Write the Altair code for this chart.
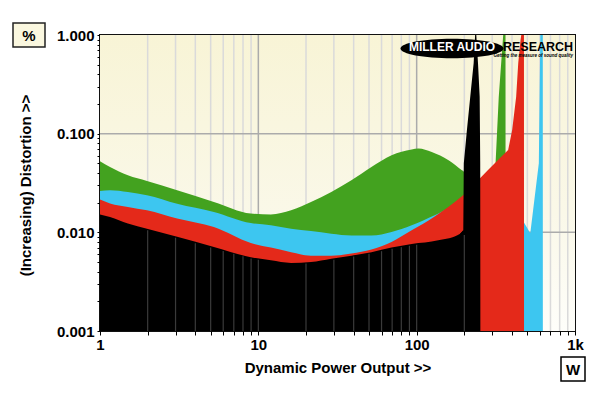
import altair as alt
import pandas as pd
import numpy as np

# ---- data (power in W, distortion in %) ----
green_w = [1, 1.157, 1.5, 1.98, 3.07, 5.24, 8.96, 12.0, 16.1, 21.5, 28.9, 38.7, 51.8, 69.4, 93.0,
           102.6, 124.5, 159, 193, 252, 315, 330, 352, 364, 364.5]
green_v = [0.0526, 0.046, 0.0378, 0.0332, 0.0267, 0.0203, 0.0155, 0.0152, 0.0167, 0.0203, 0.0257,
           0.0337, 0.0460, 0.0605, 0.0691, 0.0708, 0.0653, 0.0538, 0.0426, 0.030, 0.050, 0.237,
           1.0, 1.0, 0.001]

cyan_w = [1, 1.157, 1.5, 1.98, 3.07, 5.24, 8.96, 12.0, 16.1, 21.5, 28.9, 38.7, 51.8, 69.4, 93.0,
          130, 200, 252, 470, 476, 522, 591, 604, 626, 626.5]
cyan_v = [0.0263, 0.0267, 0.0256, 0.0238, 0.0195, 0.0161, 0.0124, 0.0118, 0.0109, 0.0103, 0.0097,
          0.0093, 0.0093, 0.0101, 0.0118, 0.0149, 0.020, 0.020, 0.0126, 0.0126, 0.0098, 0.050,
          1.0, 1.0, 0.001]

red_w = [1, 1.157, 1.5, 1.98, 3.07, 5.24, 8.96, 12.0, 16.1, 21.5, 28.9, 38.7, 51.8, 69.4, 93.0,
         130, 193, 230, 252, 378, 401, 425, 438, 453, 458, 476, 476.5]
red_v = [0.0215, 0.0196, 0.0181, 0.0167, 0.0138, 0.0113, 0.0078, 0.0070, 0.0063, 0.0058, 0.0058,
         0.0061, 0.0067, 0.0080, 0.0105, 0.0145, 0.0232, 0.030, 0.0353, 0.0681, 0.109, 0.237,
         0.516, 0.89, 1.0, 1.0, 0.001]

black_w = [1, 1.157, 1.5, 1.98, 3.07, 5.24, 8.96, 12.0, 16.1, 21.5, 28.9, 38.7, 51.8, 69.4, 93.0,
           137, 188, 197, 198.5, 207.7, 218, 229, 234, 238, 244, 250, 252, 252.5]
black_v = [0.0152, 0.0143, 0.0123, 0.0109, 0.0090, 0.0071, 0.0056, 0.0052, 0.0049, 0.0050, 0.0054,
           0.0058, 0.0063, 0.0070, 0.0076, 0.0083, 0.0097, 0.0105, 0.050, 0.109, 0.237, 0.516,
           1.0, 1.0, 0.516, 0.237, 0.05, 0.001]

# index where each trace stops being a smooth curve and becomes a sharp spike
green_split = 18
cyan_split = 16
red_split = 18
black_split = 16

x_ticks = [1, 2, 3, 4, 5, 6, 7, 8, 9, 10, 20, 30, 40, 50, 60, 70, 80, 90,
           100, 200, 300, 400, 500, 600, 700, 800, 900, 1000]
y_ticks = [0.001, 0.002, 0.003, 0.004, 0.005, 0.006, 0.007, 0.008, 0.009,
           0.01, 0.02, 0.03, 0.04, 0.05, 0.06, 0.07, 0.08, 0.09,
           0.1, 0.2, 0.3, 0.4, 0.5, 0.6, 0.7, 0.8, 0.9, 1.0]
minor_grid_x = [2, 3, 4, 5, 6, 7, 8, 9, 20, 30, 40, 50, 60, 70, 80, 90,
                200, 300, 400, 500, 600, 700, 800, 900]
major_grid_x = [10, 100]
major_grid_y = [0.01, 0.1]
frame_x = [1, 1000]
frame_y = [0.001, 1.0]

FONT = "Liberation Sans"

xscale = alt.Scale(type="log", domain=[1, 1000])
yscale = alt.Scale(type="log", domain=[0.001, 1])

x_axis = alt.Axis(
    values=x_ticks,
    labelExpr="datum.value == 1 ? '1' : datum.value == 10 ? '10' : datum.value == 100 ? '100' : datum.value == 1000 ? '1k' : ''",
    title="Dynamic Power Output >>", grid=False, domain=False,
    tickColor="#000", tickSize=4, tickWidth=1,
    labelFont=FONT, labelFontSize=15, labelFontWeight="bold", labelColor="#000",
    labelPadding=2, labelOverlap=False, labelFlush=False,
    titleFont=FONT, titleFontSize=15, titleFontWeight="bold", titleColor="#000",
    titleY=36, titleBaseline="middle")
y_axis = alt.Axis(
    values=y_ticks,
    labelExpr="indexof([0.001, 0.01, 0.1, 1], datum.value) >= 0 ? format(datum.value, '.3f') : ''",
    title="(Increasing) Distortion >>", grid=False, domain=False,
    tickColor="#000", tickSize=3, tickWidth=1,
    labelFont=FONT, labelFontSize=15, labelFontWeight="bold", labelColor="#000",
    labelPadding=3, labelOverlap=False, labelFlush=False,
    titleFont=FONT, titleFontSize=15, titleFontWeight="bold", titleColor="#000",
    titleX=-75, titleY=150, titleAngle=270, titleAlign="center", titleBaseline="middle")


def X(f):
    return alt.X(f, type="quantitative", scale=xscale, axis=x_axis)


def Y(f):
    return alt.Y(f, type="quantitative", scale=yscale, axis=y_axis, stack=None)


layers = []

# background gradient over the plot frame
bg = alt.Chart(pd.DataFrame({"x0": [frame_x[0]], "x1": [frame_x[1]],
                             "y0": [frame_y[1]], "y1": [frame_y[0]]})).mark_rect(
    color=alt.LinearGradient(gradient="linear", x1=0, y1=0, x2=0, y2=1,
                             stops=[alt.GradientStop(color="#F8F4D6", offset=0),
                                    alt.GradientStop(color="#FAF8E8", offset=0.6),
                                    alt.GradientStop(color="#FEFEFA", offset=1)])
).encode(x=X("x0"), x2="x1", y=Y("y0"), y2="y1")
layers.append(bg)

# grid behind
gminor = alt.Chart(pd.DataFrame({"g": minor_grid_x, "lo": 0.001, "hi": 1.0})).mark_rule(
    color="#DADADA", strokeWidth=1.5).encode(x=X("g"), y=Y("lo"), y2="hi")
gmajor = alt.Chart(pd.DataFrame({"g": major_grid_x, "lo": 0.001, "hi": 1.0})).mark_rule(
    color="#ABABAB", strokeWidth=1.5).encode(x=X("g"), y=Y("lo"), y2="hi")
gmajy = alt.Chart(pd.DataFrame({"g": major_grid_y, "lo": 1, "hi": 1000})).mark_rule(
    color="#ABABAB", strokeWidth=1.5).encode(y=Y("g"), x=X("lo"), x2="hi")
layers += [gminor, gmajor, gmajy]

for w, v, k, col in [(green_w, green_v, green_split, "#43A21F"),
                     (cyan_w, cyan_v, cyan_split, "#3DC6F0"),
                     (red_w, red_v, red_split, "#E4291A"),
                     (black_w, black_v, black_split, "#000000")]:
    smooth = pd.DataFrame({"w": w[:k + 2], "v": v[:k + 2]})
    sharp = pd.DataFrame({"w": w[k:], "v": v[k:]})
    layers.append(
        alt.Chart(smooth).mark_area(color=col, opacity=1, interpolate="monotone").encode(
            x=X("w"), y=Y("v")))
    layers.append(
        alt.Chart(sharp).mark_area(color=col, opacity=1, interpolate="linear").encode(
            x=X("w"), y=Y("v")))

# grid lines visible over the black area
gx_all = sorted(minor_grid_x + major_grid_x)
gx_black = [g for g in gx_all if g <= 200]
btop = list(10 ** np.interp(np.log10(gx_black), np.log10(black_w[:17]), np.log10(black_v[:17])) * 0.97)
gblack = alt.Chart(pd.DataFrame({"g": gx_black, "t": btop, "lo": 0.001})).mark_rule(
    color="#3A3A3A", strokeWidth=1.2).encode(x=X("g"), y=Y("lo"), y2="t")
layers.append(gblack)

one = pd.DataFrame({"a": [0]})
# logo
ellipse = alt.Chart(one).mark_point(
    shape="M -1 0 A 1 0.19 0 1 1 1 0 A 1 0.19 0 1 1 -1 0 Z",
    size=103 * 103, filled=True, color="#000", opacity=1
).encode(x=alt.value(352), y=alt.value(13.5))
logo1 = alt.Chart(one).mark_text(text="MILLER AUDIO", font=FONT, fontSize=12, fontWeight="bold",
                                  color="#FFFFFF", align="center", baseline="middle").encode(
    x=alt.value(352), y=alt.value(12))
logo2 = alt.Chart(one).mark_text(text="RESEARCH", font=FONT, fontSize=12.5, fontWeight="bold",
                                  color="#000", align="left", baseline="middle").encode(
    x=alt.value(403), y=alt.value(12))
logo3 = alt.Chart(one).mark_text(text="Getting the measure of sound quality", font=FONT, fontSize=4.5,
                                  fontWeight="bold", fontStyle="italic",
                                  color="#000", align="right", baseline="middle").encode(
    x=alt.value(473), y=alt.value(20.5))
layers += [ellipse, logo1, logo2, logo3]

# unit boxes
pbox = alt.Chart(one).mark_rect(fill="#FAF7DF", stroke="#222", strokeWidth=1.5).encode(
    x=alt.value(-87), x2=alt.value(-55), y=alt.value(-12), y2=alt.value(12))
ptxt = alt.Chart(one).mark_text(text="%", font=FONT, fontSize=15, fontWeight="bold", color="#000",
                                baseline="middle").encode(x=alt.value(-71), y=alt.value(0.5))
wbox = alt.Chart(one).mark_rect(fill="#FFFFFF", stroke="#000", strokeWidth=1.5).encode(
    x=alt.value(461), x2=alt.value(485), y=alt.value(322), y2=alt.value(346))
wtxt = alt.Chart(one).mark_text(text="W", font=FONT, fontSize=15, fontWeight="bold", color="#000",
                                baseline="middle").encode(x=alt.value(473), y=alt.value(334.5))
layers += [pbox, ptxt, wbox, wtxt]

chart = alt.layer(*layers).properties(
    width=475, height=296,
    autosize=alt.AutoSizeParams(type="none"),
    padding={"left": 92, "top": 27, "right": 17, "bottom": 59},
    background="#FFFFFF",
).configure_view(stroke="#111", strokeWidth=2)

chart.save("out.html", embed_options={"renderer": "svg", "actions": False})
